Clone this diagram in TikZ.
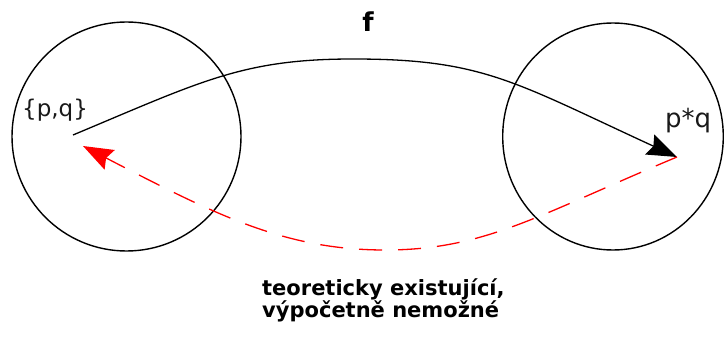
\documentclass[tikz,border=0pt]{standalone}
\usepackage{fontspec}
\setmainfont{DejaVu Sans}
\usetikzlibrary{arrows.meta,shapes.geometric}
\begin{document}
\begin{tikzpicture}[x=1pt,y=1pt,
  ring/.style={ellipse, draw=black, line width=1.4pt, inner sep=0pt},
  lbl/.style={inner sep=0pt, anchor=base west, text=black!90},
  boldlbl/.style={inner sep=0pt, anchor=base west, font=\fontsize{21}{22}\selectfont\bfseries},
  mapto/.style={draw=black, line width=1.3pt, -{Stealth[length=30pt,width=22pt,inset=4pt]}},
  inverse/.style={draw=red, line width=1.3pt, dash pattern=on 23pt off 16pt,
    -{Stealth[length=30pt,width=22pt,inset=4pt]}}
]
\useasboundingbox (0,0) rectangle (724,338);
\fill[white] (0,0) rectangle (724,338);

\node[ring, minimum width=229pt, minimum height=229pt] (L) at (126.5,201.5) {};
\node[ring, minimum width=220.6pt, minimum height=227pt] (R) at (613,201.5) {};

\coordinate (pq) at (73,203);
\coordinate (pstar) at (677,181);
\coordinate (top) at (353,279);
\coordinate (low) at (385,88);
\coordinate (tipL) at (83,192);

\node[lbl, font=\fontsize{23}{27}\selectfont] (A) at (22,221.5) {\{p,q\}};
\node[lbl, font=\fontsize{26}{30}\selectfont] (B) at (665,210) {p*q};
\node[inner sep=0pt, anchor=base, font=\fontsize{26}{30}\selectfont\bfseries] (F) at (368,306) {f};
\node[boldlbl] (T1) at (262,43) {teoreticky existující,};
\node[boldlbl] (T2) at (262,21) {výpočetně nemožné};

\path[mapto] (pq) .. controls (202,257) and (243,279) .. (top)
  .. controls (483,279) and (514,256) .. (pstar);
\path[inverse] (pstar) .. controls (538,123) and (485,88) .. (low)
  .. controls (285,88) and (216,123) .. (tipL);
\end{tikzpicture}
\end{document}
